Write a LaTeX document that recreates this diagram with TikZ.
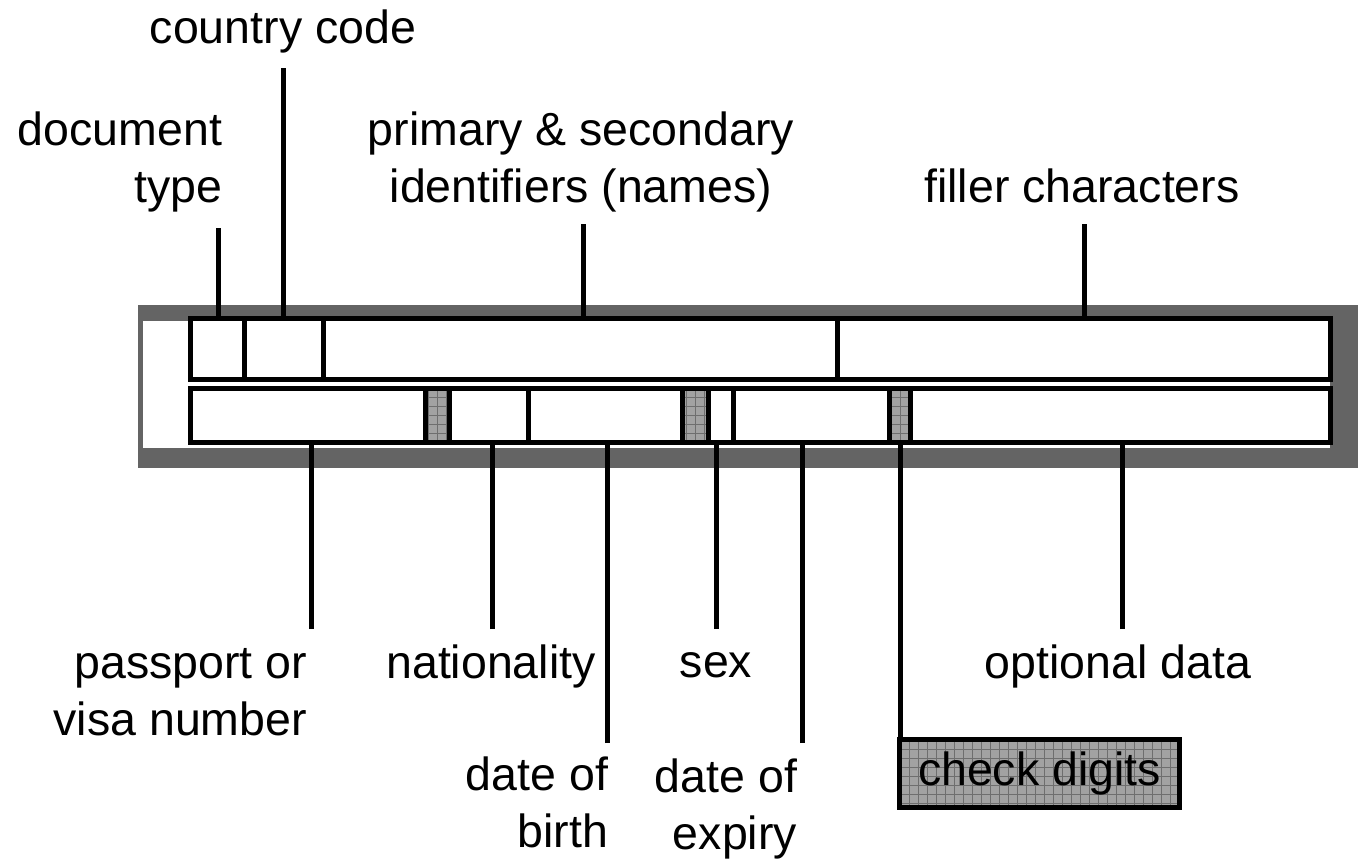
\documentclass[tikz,border=0pt]{standalone}
\usepackage{fontspec}
\setmainfont{Liberation Sans}
\definecolor{bandgray}{HTML}{646464}
\definecolor{hatchgray}{HTML}{A2A2A2}
\definecolor{hatchline}{HTML}{6E6E6E}
\begin{document}
\begin{tikzpicture}[x=1pt,y=-1pt,
  lbl/.style={font=\fontsize{46.5}{57}\selectfont, inner sep=0pt, outer sep=0pt},
  field/.style={draw=black, line width=5pt, fill=white, inner sep=0pt, outer sep=0pt},
  toprow/.style={field, minimum height=61pt},
  botrow/.style={field, minimum height=53.5pt},
  hatched/.style={fill=hatchgray, path picture={
      \draw[hatchline, line width=0.6pt] (path picture bounding box.south west) grid[step=9pt] (path picture bounding box.north east);}},
  lead/.style={draw=black, line width=5pt}
]
\useasboundingbox (0,0) rectangle (1363,860);
% background band
\fill[bandgray] (138,305) rectangle (1358,468);
\fill[white] (143,321) rectangle (1330,448);

% top row fields
\node[toprow, minimum width=53.5pt] (doc) at (217.25,349) {};
\node[toprow, minimum width=79pt] (cc) at (283.5,349) {};
\node[toprow, minimum width=514pt] (names) at (580,349) {};
\node[toprow, minimum width=493pt] (filler) at (1083.5,349) {};

% bottom row fields
\node[botrow, minimum width=235pt] (pass) at (308,415.25) {};
\node[botrow, hatched, minimum width=24pt] (chk1) at (437.5,415.25) {};
\node[botrow, minimum width=78.5pt] (nat) at (488.75,415.25) {};
\node[botrow, minimum width=154.5pt] (dob) at (605.25,415.25) {};
\node[botrow, hatched, minimum width=26pt] (chk2) at (695.5,415.25) {};
\node[botrow, minimum width=24.5pt] (sex) at (720.75,415.25) {};
\node[botrow, minimum width=156.5pt] (exp) at (811.25,415.25) {};
\node[botrow, hatched, minimum width=21pt] (chk3) at (900,415.25) {};
\node[botrow, minimum width=419.5pt] (opt) at (1120.25,415.25) {};

% labels above
\node[lbl, anchor=base] (lcc) at (283,43) {country code};
\node[lbl, anchor=base east] (ldoc) at (222,145) {\begin{tabular}[t]{@{}r@{}}document\\type\end{tabular}};
\node[lbl, anchor=base] (lnames) at (581,145) {\begin{tabular}[t]{@{}c@{}}primary \& secondary\\identifiers (names)\end{tabular}};
\node[lbl, anchor=base] (lfiller) at (1082,202) {filler characters};

% labels below
\node[lbl, anchor=base east] (lpass) at (307,678) {\begin{tabular}[t]{@{}r@{}}passport or\\visa number\end{tabular}};
\node[lbl, anchor=base] (lnat) at (491,678) {nationality};
\node[lbl, anchor=base] (lsex) at (716,677) {sex};
\node[lbl, anchor=base] (lopt) at (1118,678) {optional data};
\node[lbl, anchor=base east] (ldob) at (608,790) {\begin{tabular}[t]{@{}r@{}}date of\\birth\end{tabular}};
\node[lbl, anchor=base east] (lexp) at (797,792) {\begin{tabular}[t]{@{}r@{}}date of\\expiry\end{tabular}};
\node[field, hatched, lbl, line width=5pt, minimum width=280pt, minimum height=68pt] (ckbox) at (1039.5,773.5) {check digits};

% leader line free ends
\coordinate (dtend) at (218,228);
\coordinate (ccend) at (283,68);
\coordinate (nmend) at (583,224);
\coordinate (flend) at (1084,224);
\coordinate (psend) at (311,629);
\coordinate (ntend) at (492,629);
\coordinate (dbend) at (607,743);
\coordinate (sxend) at (716,629);
\coordinate (exend) at (802,743);
\coordinate (opend) at (1122,629);

% leader lines
\draw[lead] (dtend) -- (dtend |- doc.north);
\draw[lead] (ccend) -- (ccend |- cc.north);
\draw[lead] (nmend) -- (nmend |- names.north);
\draw[lead] (flend) -- (flend |- filler.north);
\draw[lead] (psend) -- (psend |- pass.south);
\draw[lead] (ntend) -- (ntend |- nat.south);
\draw[lead] (dbend) -- (dbend |- dob.south);
\draw[lead] (sxend) -- (sxend |- sex.south);
\draw[lead] (exend) -- (exend |- exp.south);
\draw[lead] (opend) -- (opend |- opt.south);
\draw[lead] (chk3.south) -- (chk3.south |- ckbox.north);
\end{tikzpicture}
\end{document}
